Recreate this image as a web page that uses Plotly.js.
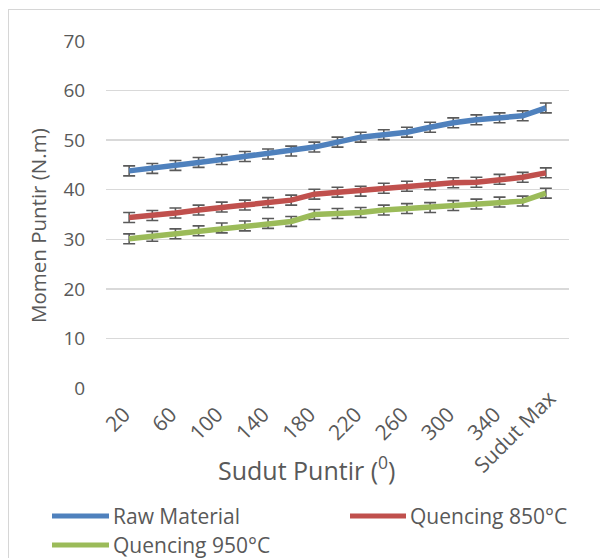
<!DOCTYPE html>
<html>
<head>
<meta charset="utf-8">
<script src="https://cdn.plot.ly/plotly-3.0.1.min.js"></script>
<style>
  html, body { margin: 0; padding: 0; background: #ffffff; }
  #wrap { position: relative; width: 600px; height: 558px; overflow: hidden; }
  #chart { width: 600px; height: 558px; }
  #frame {
    position: absolute; left: 8px; top: 9px; width: 700px; height: 700px;
    border-left: 1px solid #d6d6d6; border-top: 1px solid #d6d6d6;
    pointer-events: none;
  }
</style>
</head>
<body>
<div id="wrap">
  <div id="chart"></div>
  <div id="frame"></div>
</div>
<script>
// Twist angle categories (degrees), last one is the maximum angle reached
const angles = ["20", "40", "60", "80", "100", "120", "140", "160", "180", "200",
                "220", "240", "260", "280", "300", "320", "340", "360", "Sudut Max"];

const seriesNames = ["Raw Material", "Quencing 850°C", "Quencing 950°C"];
const seriesColors = ["#4F81BD", "#C0504D", "#9BBB59"];

// Torque moment (N.m)
const rawMaterial = [43.8, 44.3, 44.9, 45.5, 46.1, 46.7, 47.2, 47.8, 48.6, 49.6,
                     50.6, 51.1, 51.6, 52.6, 53.5, 54.1, 54.5, 54.9, 56.5];
const quenching850 = [34.4, 34.8, 35.3, 35.9, 36.5, 36.9, 37.4, 37.9, 39.1, 39.5,
                      39.7, 40.3, 40.7, 41.0, 41.4, 41.5, 42.1, 42.5, 43.4];
const quenching950 = [30.1, 30.6, 31.1, 31.7, 32.3, 32.7, 33.2, 33.6, 35.0, 35.2,
                      35.4, 35.9, 36.2, 36.4, 36.8, 37.1, 37.5, 37.7, 39.3];

// Fixed error amount shown on every point
const errorAmount = 1;

const yTickVals = [0, 10, 20, 30, 40, 50, 60, 70];
// every other category gets a label; the long last label is placed separately
const xTickVals = angles.filter((a, i) => i % 2 === 0);
const lastAngle = angles[angles.length - 1];
const xTickText = xTickVals.map(a => (a === lastAngle ? "" : a));

const seriesValues = [rawMaterial, quenching850, quenching950];

// page geometry (px)
const W = 600, H = 558;
const M = { l: 106, r: 31, t: 41, b: 170 };
const plotW = W - M.l - M.r;
const plotH = H - M.t - M.b;
const px = x => (x - M.l) / plotW;            // page px -> paper x
const py = y => (H - M.b - y) / plotH;        // page px -> paper y

const textColor = "#595959";
const fontFamily = "'Open Sans', 'Liberation Sans', sans-serif";

const traces = seriesValues.map((vals, k) => ({
  type: "scatter",
  mode: "lines",
  x: angles,
  y: vals,
  name: seriesNames[k],
  line: { color: seriesColors[k], width: 5.5 },
  error_y: {
    type: "constant", value: errorAmount, visible: true,
    color: "#5a5a5a", thickness: 1.6, width: 6
  },
  showlegend: false,
  hoverinfo: "x+y+name"
}));

// hand-placed legend: long line samples with labels
const legendItems = [
  { x0: 52, x1: 109, y: 516 },
  { x0: 350, x1: 406, y: 516 },
  { x0: 52, x1: 109, y: 545 }
];
const shapes = legendItems.map((it, k) => ({
  type: "line", xref: "paper", yref: "paper",
  x0: px(it.x0), x1: px(it.x1), y0: py(it.y), y1: py(it.y),
  line: { color: seriesColors[k], width: 5 }
}));
const annotations = legendItems.map((it, k) => ({
  xref: "paper", yref: "paper",
  x: px(it.x1 + 2), y: py(it.y),
  xanchor: "left", yanchor: "middle",
  text: seriesNames[k], showarrow: false,
  font: { family: fontFamily, size: 21, color: textColor }
}));

// label of the last category, lifted up-right like the category label block
annotations.push({
  xref: "x", yref: "paper",
  x: lastAngle, xshift: -31, y: py(431),
  xanchor: "center", yanchor: "middle",
  text: lastAngle, showarrow: false, textangle: -45,
  font: { family: fontFamily, size: 21, color: textColor }
});

// axis titles
annotations.push({
  xref: "paper", yref: "paper",
  x: px(306), y: py(468), xanchor: "center", yanchor: "middle",
  text: "Sudut Puntir (<sup>0</sup>)", showarrow: false,
  font: { family: fontFamily, size: 25, color: textColor }
});
annotations.push({
  xref: "paper", yref: "paper",
  x: px(38), y: py(226), xanchor: "center", yanchor: "middle",
  text: "Momen Puntir (N.m)", showarrow: false, textangle: -90,
  font: { family: fontFamily, size: 20.5, color: textColor }
});

const layout = {
  width: W, height: H,
  margin: M,
  paper_bgcolor: "#ffffff",
  plot_bgcolor: "#ffffff",
  showlegend: false,
  font: { family: fontFamily, color: textColor },
  xaxis: {
    type: "category",
    tickmode: "array",
    tickvals: xTickVals,
    ticktext: xTickText,
    tickangle: -45,
    tickfont: { family: fontFamily, size: 21, color: textColor },
    ticklabelshift: -5,
    ticklabelstandoff: 9,
    showgrid: false,
    zeroline: false,
    showline: false,
    ticks: "",
    ticklen: 0,
    automargin: false
  },
  yaxis: {
    range: [0, 70],
    tickmode: "array",
    tickvals: yTickVals,
    tickfont: { family: fontFamily, size: 19, color: textColor },
    showgrid: true,
    gridcolor: "#d9d9d9",
    gridwidth: 1.3,
    zeroline: false,
    showline: false,
    ticks: "outside",
    ticklen: 16,
    tickcolor: "rgba(0,0,0,0)",
    automargin: false
  },
  shapes: shapes,
  annotations: annotations
};

Plotly.newPlot("chart", traces, layout, { displayModeBar: false, staticPlot: true });
</script>
</body>
</html>
